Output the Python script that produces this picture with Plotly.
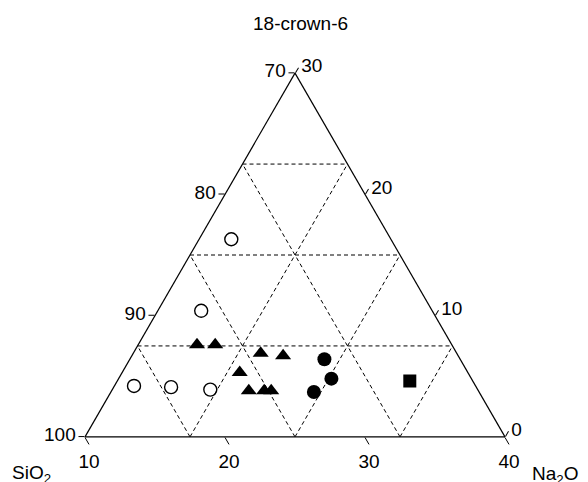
import plotly.graph_objects as go

TOTAL = 110  # SiO2 + Na2O + 18-crown-6 (ratio basis)

# --- data (18-crown-6, Na2O, SiO2) ---
open_crown = [16.3, 10.4, 4.2, 4.1, 3.9]
open_na2o = [12.3, 13.1, 11.4, 14.1, 17.0]
open_sio2 = [81.4, 86.5, 94.4, 91.8, 89.1]

tri_crown = [7.6, 7.6, 6.9, 6.7, 5.3, 3.8, 3.8, 3.8]
tri_na2o = [14.2, 15.5, 19.1, 20.8, 18.4, 19.8, 20.9, 21.4]
tri_sio2 = [88.2, 86.9, 84.0, 82.5, 86.3, 86.4, 85.3, 84.8]

fc_crown = [6.4, 4.8, 3.7]
fc_na2o = [23.9, 25.2, 24.5]
fc_sio2 = [79.7, 80.0, 81.8]

sq_crown = [4.6]
sq_na2o = [30.9]
sq_sio2 = [74.5]

# axis ranges
CROWN_MIN, SIO2_MIN, NA2O_MIN = 0, 70, 10

# tick labels
sio2_ticks = [100, 90, 80, 70]      # along left edge
na2o_ticks = [10, 20, 30, 40]       # along bottom edge
crown_ticks = [0, 10, 20, 30]       # along right edge

# dashed grid levels
crown_grid = [7.5, 15, 22.5]
sio2_grid = [77.5, 85, 92.5]
na2o_grid = [17.5, 25, 32.5]

# build dashed grid segments (a=crown, b=SiO2, c=Na2O)
ga, gb, gc = [], [], []
for k in crown_grid:
    ga += [k, k, None]
    gb += [TOTAL - k - NA2O_MIN, SIO2_MIN, None]
    gc += [NA2O_MIN, TOTAL - k - SIO2_MIN, None]
for s in sio2_grid:
    ga += [CROWN_MIN, TOTAL - s - NA2O_MIN, None]
    gb += [s, s, None]
    gc += [TOTAL - s - CROWN_MIN, NA2O_MIN, None]
for n in na2o_grid:
    ga += [CROWN_MIN, TOTAL - n - SIO2_MIN, None]
    gb += [TOTAL - n - CROWN_MIN, SIO2_MIN, None]
    gc += [n, n, None]

fig = go.Figure()
fig.add_trace(go.Scatterternary(
    a=ga, b=gb, c=gc, mode="lines",
    line=dict(color="black", width=1, dash="4px,3px"),
    hoverinfo="skip", showlegend=False))

fig.add_trace(go.Scatterternary(
    a=open_crown, b=open_sio2, c=open_na2o, mode="markers",
    marker=dict(symbol="circle-open", size=13, color="black", line=dict(width=1.4)),
    showlegend=False))
fig.add_trace(go.Scatterternary(
    a=tri_crown, b=tri_sio2, c=tri_na2o, mode="markers",
    marker=dict(symbol="triangle-up", size=14, color="black"),
    showlegend=False))
fig.add_trace(go.Scatterternary(
    a=fc_crown, b=fc_sio2, c=fc_na2o, mode="markers",
    marker=dict(symbol="circle", size=14, color="black"),
    showlegend=False))
fig.add_trace(go.Scatterternary(
    a=sq_crown, b=sq_sio2, c=sq_na2o, mode="markers",
    marker=dict(symbol="square", size=13, color="black"),
    showlegend=False))

axis_common = dict(
    showline=True, linecolor="black", linewidth=1.2,
    showgrid=False, ticks="outside", tickwidth=1.2, tickcolor="black",
    tickfont=dict(size=19, color="black"),
    title=dict(text=""),
)

label_font = dict(family="Liberation Sans", size=19, color="black")

fig.update_layout(
    width=588, height=482,
    margin=dict(l=85, r=83, t=73, b=45),
    paper_bgcolor="white",
    font=dict(family="Liberation Sans", size=19, color="black"),
    showlegend=False,
    ternary=dict(
        sum=TOTAL,
        bgcolor="white",
        domain=dict(x=[0, 1], y=[0, 1]),
        aaxis=dict(min=CROWN_MIN, ticklen=6,
                   tickvals=[100 - v for v in sio2_ticks],
                   ticktext=[str(v) for v in sio2_ticks], **axis_common),
        baxis=dict(min=SIO2_MIN, ticklen=8,
                   tickvals=[TOTAL - v for v in na2o_ticks],
                   ticktext=[str(v) for v in na2o_ticks], **axis_common),
        caxis=dict(min=NA2O_MIN, ticklen=6,
                   tickvals=[TOTAL - SIO2_MIN - v for v in crown_ticks],
                   ticktext=[str(v) for v in crown_ticks], **axis_common),
    ),
    annotations=[
        dict(text="18-crown-6", xref="paper", yref="paper", x=0.512, y=1.137,
             xanchor="center", yanchor="middle", showarrow=False, font=label_font),
        dict(text="SiO<sub>2</sub>", xref="paper", yref="paper", x=-0.128, y=-0.062,
             xanchor="center", yanchor="top", showarrow=False, font=label_font),
        dict(text="Na<sub>2</sub>O", xref="paper", yref="paper", x=1.12, y=-0.065,
             xanchor="center", yanchor="top", showarrow=False, font=label_font),
    ],
)

fig.write_html("out.html")
